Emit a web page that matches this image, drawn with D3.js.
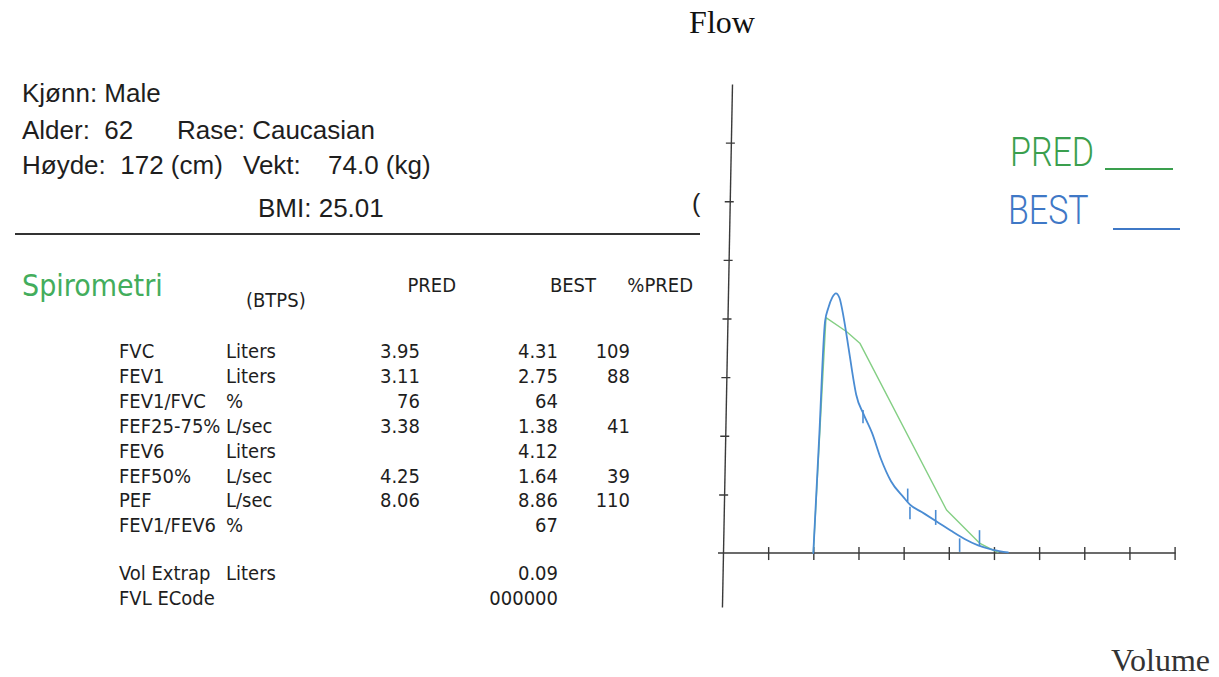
<!DOCTYPE html>
<html>
<head>
<meta charset="utf-8">
<script src="https://cdn.jsdelivr.net/npm/d3@7"></script>
<style>
  html, body { margin: 0; padding: 0; background: #fff; }
  svg { display: block; }
  text { white-space: pre; }
</style>
</head>
<body>
<svg id="chart"></svg>
<script>
// patient header
const patientFields = ['Kjønn: Male', 'Alder:  62', 'Rase: Caucasian', 'Høyde:  172 (cm)', 'Vekt:', '74.0 (kg)', 'BMI: 25.01'];

// spirometry table
const tableHeaders = ['PRED', 'BEST', '%PRED'];
const spiroParams = ['FVC', 'FEV1', 'FEV1/FVC', 'FEF25-75%', 'FEV6', 'FEF50%', 'PEF', 'FEV1/FEV6', 'Vol Extrap', 'FVL ECode'];
const spiroUnits = ['Liters', 'Liters', '%', 'L/sec', 'Liters', 'L/sec', 'L/sec', '%', 'Liters', ''];
const spiroPred = ['3.95', '3.11', '76', '3.38', '', '4.25', '8.06', '', '', ''];
const spiroBest = ['4.31', '2.75', '64', '1.38', '4.12', '1.64', '8.86', '67', '0.09', '000000'];
const spiroPctPred = ['109', '88', '', '41', '', '39', '110', '', '', ''];

// flow-volume curves: [volume (L), flow (L/s)]
const bestCurve = [
  [0, 0], [0.13, 3.95], [0.26, 7.9], [0.33, 8.35], [0.42, 8.72], [0.5, 8.86],
  [0.58, 8.7], [0.67, 8.05], [0.78, 7.0], [0.88, 6.0], [0.95, 5.4], [1.11, 4.75],
  [1.3, 4.1], [1.5, 3.2], [1.72, 2.45], [2.0, 1.9], [2.14, 1.65], [2.4, 1.4],
  [2.73, 1.08], [3.05, 0.76], [3.35, 0.48], [3.65, 0.26], [3.98, 0.11], [4.31, 0.02]
];
const predCurve = [
  [0, 0], [0.28, 8.03], [0.74, 7.55], [1.03, 7.16], [2.95, 1.47],
  [3.69, 0.33], [3.98, 0.1], [4.1, 0.02]
];
// short vertical markers on the BEST curve: [volume, flow from, flow to]
const bestMarks = [
  [1.1, 4.43, 4.88], [2.09, 1.75, 2.2], [2.14, 1.15, 1.58],
  [2.71, 0.96, 1.47], [3.24, 0.04, 0.5], [3.68, 0.27, 0.78]
];
const xTicks = [-1, 0, 1, 2, 3, 4, 5, 6, 7, 8];
const yTicks = [2, 4, 6, 8, 10, 12, 14];
const legendNames = ['PRED', 'BEST'];

const width = 1219;
const height = 677;
const green = '#3a9f4e';
const blue = '#3f78c6';
const predLine = '#84cf84';
const bestLine = '#4a8cd3';
const ink = '#1e1e1e';
const axisColor = '#3a3a3a';

const svg = d3.select('#chart').attr('width', width).attr('height', height)
  .attr('viewBox', [0, 0, width, height]);

// Header
const headerFont = '"Liberation Sans", Arial, sans-serif';
const fieldPos = [[22, 102], [22, 139], [177, 139], [22, 174], [243, 174], [328, 174], [258, 217]];
svg.append('g')
  .attr('font-family', headerFont)
  .attr('font-size', 26)
  .attr('fill', ink)
  .selectAll('text')
  .data(patientFields)
  .join('text')
  .attr('x', (d, i) => fieldPos[i][0])
  .attr('y', (d, i) => fieldPos[i][1])
  .text((d) => d);

svg.append('text')
  .attr('x', 692).attr('y', 212)
  .attr('font-family', headerFont).attr('font-size', 25).attr('fill', ink)
  .text('(');

svg.append('line')
  .attr('x1', 15).attr('x2', 700)
  .attr('y1', 234).attr('y2', 234)
  .attr('stroke', '#333').attr('stroke-width', 2);

// Table
const tableFont = '"DejaVu Sans Condensed", "DejaVu Sans", sans-serif';
const table = svg.append('g')
  .attr('font-family', tableFont)
  .attr('font-size', 20)
  .attr('fill', ink);

table.append('text')
  .attr('x', 22).attr('y', 296)
  .attr('font-size', 30).attr('fill', '#43ad5c')
  .text('Spirometri');
table.append('text').attr('x', 246).attr('y', 307).text('(BTPS)');

const headerX = [456, 596, 693];
table.selectAll('.colhead')
  .data(tableHeaders)
  .join('text')
  .attr('class', 'colhead')
  .attr('x', (d, i) => headerX[i])
  .attr('y', 292)
  .attr('text-anchor', 'end')
  .text((d) => d);

const rowY = (i) => 358 + 24.9 * i + (i >= 8 ? 23 : 0);
const columns = [
  { values: spiroParams, x: 119, anchor: 'start' },
  { values: spiroUnits, x: 226, anchor: 'start' },
  { values: spiroPred, x: 420, anchor: 'end' },
  { values: spiroBest, x: 558, anchor: 'end' },
  { values: spiroPctPred, x: 630, anchor: 'end' },
];
columns.forEach((col) => {
  table.append('g')
    .selectAll('text')
    .data(col.values)
    .join('text')
    .attr('x', col.x)
    .attr('y', (d, i) => rowY(i))
    .attr('text-anchor', col.anchor)
    .text((d) => d);
});

// Flow-volume chart
const xScale = d3.scaleLinear().domain([-2, 8]).range([723, 1174.6]);
const yScale = d3.scaleLinear().domain([-1.84, 16]).range([607, 84]);
const y0 = yScale(0);

svg.append('g')
  .attr('transform', `translate(0,${y0})`)
  .call(d3.axisBottom(xScale).tickValues(xTicks).tickSize(7).tickSizeOuter(0).tickFormat(''))
  .call((g) => g.selectAll('.tick line').attr('y1', -6).attr('y2', 7))
  .call((g) => g.select('.domain').attr('d', `M${xScale(-2) - 5},0H${xScale(8) + 1}`))
  .call((g) => g.selectAll('path, line').attr('stroke', axisColor).attr('stroke-width', 1.4));

// the scanned y axis leans slightly to the right towards the top
svg.append('g')
  .attr('transform', `translate(${xScale(-2)},${y0}) skewX(-1.1) translate(0,${-y0})`)
  .call(d3.axisLeft(yScale).tickValues(yTicks).tickSize(5).tickSizeOuter(0).tickFormat(''))
  .call((g) => g.selectAll('.tick line').attr('x1', 4).attr('x2', -5))
  .call((g) => g.selectAll('path, line').attr('stroke', axisColor).attr('stroke-width', 1.4));

const line = d3.line()
  .x((d) => xScale(d[0]))
  .y((d) => yScale(d[1]));

svg.append('path')
  .datum(predCurve)
  .attr('fill', 'none')
  .attr('stroke', predLine)
  .attr('stroke-width', 1.4)
  .attr('stroke-linejoin', 'round')
  .attr('d', line);

svg.append('path')
  .datum(bestCurve)
  .attr('fill', 'none')
  .attr('stroke', bestLine)
  .attr('stroke-width', 1.8)
  .attr('stroke-linejoin', 'round')
  .attr('stroke-linecap', 'round')
  .attr('d', d3.line().curve(d3.curveMonotoneX).x((d) => xScale(d[0])).y((d) => yScale(d[1])));

svg.append('g')
  .attr('stroke', bestLine)
  .attr('stroke-width', 1.6)
  .selectAll('line')
  .data(bestMarks)
  .join('line')
  .attr('x1', (d) => xScale(d[0]))
  .attr('x2', (d) => xScale(d[0]))
  .attr('y1', (d) => yScale(d[1]))
  .attr('y2', (d) => yScale(d[2]));

// Legend
const legendColors = [green, blue];
const legendText = [[1010, 166], [1008, 224]];
const legendLine = [[1105, 1173, 169], [1113, 1180, 229]];
const legend = svg.append('g');
legend.selectAll('text')
  .data(legendNames)
  .join('text')
  .attr('transform', (d, i) => `translate(${legendText[i][0]},${legendText[i][1]}) scale(0.85,1)`)
  .attr('font-family', 'Roboto, sans-serif')
  .attr('font-weight', 300)
  .attr('font-size', 40)
  .attr('fill', (d, i) => legendColors[i])
  .text((d) => d);
legend.selectAll('line')
  .data(legendNames)
  .join('line')
  .attr('x1', (d, i) => legendLine[i][0])
  .attr('x2', (d, i) => legendLine[i][1])
  .attr('y1', (d, i) => legendLine[i][2])
  .attr('y2', (d, i) => legendLine[i][2])
  .attr('stroke', (d, i) => legendColors[i])
  .attr('stroke-width', 2);

// Axis titles
const titleFont = '"Liberation Serif", "Times New Roman", serif';
svg.append('text')
  .attr('x', 722).attr('y', 33)
  .attr('text-anchor', 'middle')
  .attr('font-family', titleFont).attr('font-size', 32).attr('fill', '#111')
  .text('Flow');
svg.append('text')
  .attr('x', 1210).attr('y', 671)
  .attr('text-anchor', 'end')
  .attr('font-family', titleFont).attr('font-size', 32).attr('fill', '#333')
  .text('Volume');
</script>
</body>
</html>
